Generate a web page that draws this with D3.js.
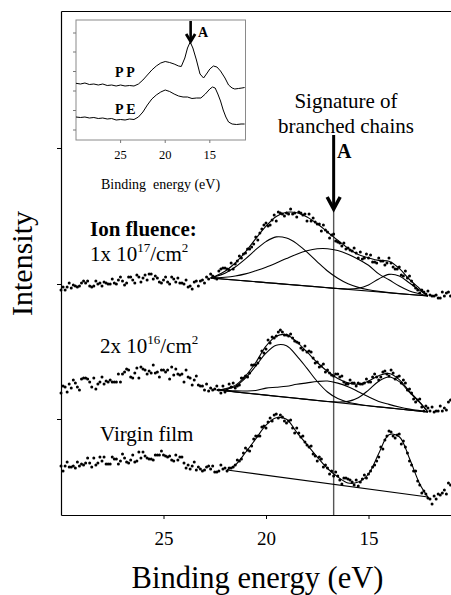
<!DOCTYPE html>
<html>
<head>
<meta charset="utf-8">
<script src="https://cdn.jsdelivr.net/npm/d3@7"></script>
<style>
  body { margin: 0; background: #fff; }
  svg { display: block; }
  text { font-family: "Liberation Serif", "Times New Roman", serif; }
</style>
</head>
<body>
<script>
// ---- data (binding energy in eV, intensity in arbitrary units) ----
// spectra were recorded on a 0.1 eV grid from 30 eV down to 11 eV
const scanEnergy = d3.range(0, 191).map(j => +(30 - 0.1 * j).toFixed(1))

const fluence17Counts = [
  225, 228, 225, 228, 232, 227, 230, 229, 228, 229,
  232, 234, 232, 234, 229, 228, 229, 234, 231, 232,
  229, 233, 232, 231, 231, 236, 232, 231, 235, 238,
  234, 230, 232, 238, 238, 235, 232, 240, 238, 233,
  237, 240, 235, 241, 241, 236, 239, 237, 233, 232,
  235, 238, 233, 231, 238, 236, 233, 237, 232, 232,
  231, 235, 228, 229, 226, 233, 234, 229, 234, 235,
  232, 238, 236, 241, 239, 237, 236, 244, 246, 247,
  247, 246, 245, 252, 246, 251, 254, 259, 257, 261,
  262, 266, 266, 268, 271, 278, 275, 282, 286, 290,
  292, 289, 290, 295, 300, 294, 303, 302, 301, 299,
  302, 301, 306, 301, 302, 298, 303, 302, 300, 301,
  294, 301, 294, 297, 293, 291, 291, 284, 290, 285,
  283, 277, 280, 281, 274, 273, 272, 269, 272, 266,
  267, 265, 264, 267, 262, 257, 263, 256, 257, 261,
  257, 260, 253, 253, 252, 257, 254, 254, 250, 252,
  257, 252, 248, 246, 246, 248, 240, 239, 244, 237,
  239, 234, 230, 227, 225, 222, 225, 223, 221, 224,
  220, 219, 219, 220, 217, 217, 223, 219, 222, 223, 219]

const fluence16Counts = [
  122, 129, 128, 123, 131, 127, 135, 132, 128, 125,
  136, 137, 137, 136, 133, 128, 137, 126, 131, 133,
  138, 131, 134, 133, 135, 133, 133, 133, 141, 133,
  141, 143, 146, 145, 138, 137, 142, 147, 137, 148,
  146, 145, 141, 144, 142, 150, 142, 143, 138, 145,
  145, 143, 145, 136, 148, 140, 146, 141, 140, 141,
  133, 145, 138, 137, 130, 135, 139, 130, 129, 129,
  125, 131, 124, 127, 125, 126, 129, 125, 122, 129,
  123, 125, 131, 128, 132, 127, 129, 130, 137, 137,
  139, 138, 142, 150, 150, 150, 152, 157, 164, 162,
  166, 175, 172, 178, 177, 179, 183, 185, 183, 180,
  180, 179, 181, 177, 174, 173, 172, 167, 165, 169,
  163, 164, 163, 157, 152, 153, 148, 149, 151, 143,
  145, 142, 140, 139, 141, 141, 138, 139, 133, 131,
  131, 135, 132, 132, 129, 132, 131, 131, 132, 136,
  133, 133, 138, 141, 138, 135, 138, 143, 144, 141,
  139, 145, 142, 136, 138, 139, 132, 135, 132, 125,
  126, 122, 116, 113, 115, 116, 108, 104, 109, 107,
  104, 108, 103, 104, 104, 109, 104, 107, 105, 113, 115]

const virginCounts = [
  49, 44, 49, 53, 48, 48, 49, 47, 53, 49,
  51, 50, 52, 57, 52, 48, 57, 50, 52, 58,
  54, 58, 51, 51, 51, 58, 56, 56, 51, 54,
  61, 57, 53, 52, 55, 60, 53, 54, 63, 57,
  63, 59, 57, 56, 56, 55, 60, 60, 60, 64,
  60, 59, 58, 59, 55, 54, 60, 55, 58, 58,
  52, 47, 50, 46, 49, 53, 45, 48, 46, 44,
  45, 48, 49, 46, 49, 43, 43, 44, 50, 46,
  47, 44, 47, 47, 48, 50, 55, 54, 56, 62,
  67, 65, 64, 69, 76, 79, 79, 79, 88, 89,
  87, 93, 97, 94, 100, 101, 97, 100, 98, 94,
  92, 94, 95, 87, 82, 87, 82, 78, 79, 73,
  70, 68, 69, 61, 59, 54, 58, 56, 48, 50,
  47, 41, 44, 39, 43, 39, 35, 31, 37, 37,
  36, 35, 33, 30, 35, 29, 33, 36, 40, 37,
  41, 44, 48, 50, 54, 58, 68, 66, 75, 79,
  84, 83, 79, 77, 80, 81, 71, 74, 68, 62,
  54, 50, 44, 44, 34, 30, 22, 24, 21, 17,
  16, 11, 19, 16, 21, 20, 22, 25, 21, 32, 30]

// fitted curves, 1x10^17/cm2
const fit17Energy = [22.7, 22.5, 22.0, 21.5, 21.0, 20.5, 20.0, 19.5, 19.0, 18.5, 18.0, 17.5, 17.0, 16.5, 16.0, 15.5, 15.0, 14.5, 14.0, 13.5, 13.0, 12.5, 12.1]
const fit17Envelope = [237.0, 238.7, 243.8, 252.0, 263.1, 276.3, 288.8, 298.5, 302.7, 302.3, 298.0, 291.2, 283.0, 274.7, 266.8, 260.5, 257.2, 254.6, 253.8, 246.6, 235.5, 226.3, 219.0]
const fit17Peak1 = [237.0, 238.2, 241.8, 248.0, 256.1, 265.3, 273.4, 278.1, 276.9, 271.4, 262.8, 253.2, 244.0, 236.7, 231.2, 227.6, 225.2, 223.6, 222.4, 221.4, 220.5, 219.7, 219.0]
const fit17Peak2 = [237.0, 237.2, 237.8, 239.0, 241.1, 244.3, 247.8, 252.0, 256.5, 260.8, 264.2, 266.2, 266.3, 264.5, 260.8, 255.7, 249.7, 241.1, 235.2, 228.9, 224.0, 221.2, 219.0]
const fit17Peak3 = [237.0, 236.7, 235.8, 235.0, 234.1, 233.3, 232.4, 231.6, 230.7, 229.9, 229.0, 228.2, 227.3, 226.5, 226.0, 226.8, 230.1, 236.1, 240.6, 239.1, 232.0, 224.8, 219.0]
const baseline17 = [[22.7, 237.0], [12.1, 219.0]]

// fitted curves, 2x10^16/cm2
const fit16Energy = [22.4, 22.0, 21.5, 21.0, 20.5, 20.0, 19.5, 19.0, 18.5, 18.0, 17.5, 17.0, 16.5, 16.0, 15.5, 15.0, 14.5, 14.0, 13.5, 13.0, 12.5, 12.1]
const fit16Envelope = [125.0, 126.2, 129.6, 139.0, 152.5, 168.9, 178.8, 180.3, 173.2, 163.1, 152.5, 143.5, 136.5, 132.1, 130.8, 133.9, 139.3, 141.5, 135.4, 123.7, 112.9, 103.0]
const fit16Peak1 = [125.0, 125.7, 128.6, 137.0, 149.0, 161.9, 169.8, 169.3, 159.2, 146.6, 133.5, 123.0, 116.4, 112.8, 110.8, 109.2, 108.1, 107.1, 106.0, 104.9, 103.9, 103.0]
const fit16Peak2 = [125.0, 124.7, 124.1, 124.0, 124.5, 126.9, 127.8, 128.8, 130.7, 132.1, 133.5, 134.0, 131.9, 128.3, 123.3, 118.2, 113.6, 110.6, 108.0, 105.9, 104.4, 103.0]
const fit16Peak3 = [125.0, 124.2, 123.1, 122.0, 121.0, 119.9, 118.8, 117.8, 116.7, 115.6, 114.5, 113.5, 113.0, 113.6, 117.3, 124.9, 133.8, 138.0, 133.4, 122.7, 112.4, 103.0]
const baseline16 = [[22.4, 125.0], [12.1, 103.0]]

// fitted curve, virgin film
const fitVirginEnergy = [21.9, 21.5, 21.0, 20.5, 20.0, 19.5, 19.0, 18.5, 18.0, 17.5, 17.0, 16.5, 16.0, 15.5, 15.0, 14.5, 14.0, 13.5, 13.0, 12.5, 12.1]
const fitVirginEnvelope = [45.0, 49.9, 62.5, 76.1, 89.8, 97.2, 95.8, 82.6, 70.3, 57.9, 46.5, 38.1, 32.0, 32.9, 41.0, 61.6, 80.2, 78.2, 56.5, 31.1, 18.0]
const baselineVirgin = [[21.9, 45.0], [12.1, 18.0]]

const xTicks = [25, 20, 15]
const yTicks = [96, 231, 367]
const markerEnergy = 16.7

// inset: reference spectra of PP and PE
const insetPPEnergy = [30, 29.5, 29, 28.5, 28, 27.5, 27, 26.5, 26, 25.5, 25, 24.5, 24, 23.5, 23, 22.5, 22, 21.5, 21, 20.5, 20, 19.5, 19, 18.5, 18.2, 17.8, 17.5, 17.2, 16.9, 16.5, 16.1, 15.7, 15.3, 15, 14.6, 14.2, 13.8, 13.3, 12.9, 12.5, 12.2, 11.8, 11.4, 11.1]
const insetPP = [5.67, 5.6, 5.7, 5.55, 5.6, 5.5, 5.6, 5.45, 5.5, 5.4, 5.5, 5.4, 5.45, 5.4, 5.6, 6.0, 6.5, 7.0, 7.4, 7.7, 7.85, 7.75, 7.6, 7.4, 7.35, 8.2, 9.2, 9.8, 9.2, 8.0, 6.6, 6.2, 6.7, 7.1, 7.4, 7.3, 6.9, 6.2, 5.5, 5.2, 5.1, 5.15, 5.2, 5.25]
const insetPEEnergy = [30, 29.5, 29, 28.5, 28, 27.5, 27, 26.5, 26, 25.5, 25, 24.5, 24, 23.5, 23, 22.5, 22, 21.5, 21, 20.5, 20, 19.5, 19, 18.5, 18, 17.5, 17, 16.5, 16, 15.5, 15, 14.7, 14.4, 14.1, 13.8, 13.5, 13.2, 12.9, 12.5, 12, 11.5, 11.1]
const insetPE = [2.3, 2.25, 2.3, 2.2, 2.25, 2.15, 2.2, 2.1, 2.15, 2.0, 2.05, 2.0, 2.1, 2.05, 2.3, 2.8, 3.5, 4.1, 4.5, 4.8, 5.0, 4.85, 4.6, 4.4, 4.3, 4.3, 4.15, 4.2, 4.2, 4.6, 5.1, 5.3, 5.2, 4.6, 3.9, 3.0, 2.3, 1.8, 1.6, 1.55, 1.6, 1.6]
const insetXTicks = [25, 20, 15]
const insetYTicks = [1.0, 2.95, 4.9, 6.85, 8.8, 10.7]
const insetMarkerEnergy = 17.15

// ---- layout ----
const width = 451
const height = 595

const svg = d3.select("body")
    .append("svg")
    .attr("width", width)
    .attr("height", height)

const x = d3.scaleLinear().domain([30, 11]).range([61, 450.5])
const y = d3.scaleLinear().domain([0, 504]).range([515, 11])

function styleAxis(g) {
    g.attr("font-family", null)
    g.select(".domain").attr("stroke", "#000").attr("stroke-width", 1.2)
    g.selectAll(".tick line").attr("stroke", "#000").attr("stroke-width", 1)
}

svg.append("g")
    .attr("transform", `translate(0,${y(0)})`)
    .call(d3.axisBottom(x).tickValues(xTicks).tickSizeInner(4).tickSizeOuter(0).tickPadding(13).tickFormat(d3.format("d")))
    .call(styleAxis)
    .selectAll("text").attr("font-size", 19).attr("fill", "#000")

svg.append("g")
    .attr("transform", `translate(${x(30)},0)`)
    .call(d3.axisLeft(y).tickValues(yTicks).tickSizeInner(4).tickSizeOuter(0).tickFormat(""))
    .call(styleAxis)

svg.append("g")
    .attr("transform", `translate(0,${y(504)})`)
    .call(d3.axisTop(x).tickValues([]).tickSizeOuter(0))
    .call(styleAxis)

// marker line for signature A
const mx = x(markerEnergy)
svg.append("line")
    .attr("x1", mx).attr("x2", mx)
    .attr("y1", 206).attr("y2", y(0))
    .attr("stroke", "#555").attr("stroke-width", 1.4)

// fitted components and baselines
const fitLine = d3.line()
    .x(d => x(d[0]))
    .y(d => y(d[1]))
    .curve(d3.curveCatmullRom.alpha(0.5))
const straight = d3.line().x(d => x(d[0])).y(d => y(d[1]))

const fitSeries = [
    [fit17Energy, fit17Envelope], [fit17Energy, fit17Peak1], [fit17Energy, fit17Peak2], [fit17Energy, fit17Peak3],
    [fit16Energy, fit16Envelope], [fit16Energy, fit16Peak1], [fit16Energy, fit16Peak2], [fit16Energy, fit16Peak3],
    [fitVirginEnergy, fitVirginEnvelope]
]

svg.append("g")
    .selectAll("path")
    .data(fitSeries)
    .join("path")
    .attr("d", d => fitLine(d3.zip(d[0], d[1])))
    .attr("fill", "none")
    .attr("stroke", "#000")
    .attr("stroke-width", 1.1)

svg.append("g")
    .selectAll("path")
    .data([baseline17, baseline16, baselineVirgin])
    .join("path")
    .attr("d", straight)
    .attr("fill", "none")
    .attr("stroke", "#000")
    .attr("stroke-width", 1.2)

// measured points
const spectra = [fluence17Counts, fluence16Counts, virginCounts]
spectra.forEach(counts => {
    svg.append("g")
        .selectAll("circle")
        .data(d3.zip(scanEnergy, counts))
        .join("circle")
        .attr("cx", d => x(d[0]))
        .attr("cy", d => y(d[1]))
        .attr("r", 1.5)
        .attr("fill", "#000")
})

// arrow A
svg.append("line")
    .attr("x1", mx).attr("x2", mx).attr("y1", 135).attr("y2", 207)
    .attr("stroke", "#000").attr("stroke-width", 3)
svg.append("path")
    .attr("d", `M${mx - 6.5},197 L${mx},209 L${mx + 6.5},197`)
    .attr("fill", "none").attr("stroke", "#000").attr("stroke-width", 3.5)

// labels
const label = (tx, ty, txt, size, weight, anchor) => svg.append("text")
    .attr("x", tx).attr("y", ty)
    .attr("font-size", size)
    .attr("font-weight", weight || "normal")
    .attr("text-anchor", anchor || "start")
    .attr("fill", "#000")
    .text(txt)

label(346, 108, "Signature of", 21, null, "middle")
label(346, 133, "branched chains", 21, null, "middle")
label(337, 158, "A", 20, "bold")
label(90, 236, "Ion fluence:", 21, "bold")

function fluenceLabel(tx, ty, lead, exp) {
    const t = svg.append("text").attr("x", tx).attr("y", ty).attr("font-size", 21).attr("fill", "#000")
    t.append("tspan").text(lead)
    t.append("tspan").attr("font-size", 13).attr("dy", -9).text(exp)
    t.append("tspan").attr("dy", 9).text("/cm")
    t.append("tspan").attr("font-size", 13).attr("dy", -9).text("2")
}
fluenceLabel(90, 261, "1x 10", "17")
fluenceLabel(100, 353, "2x 10", "16")
label(100, 441, "Virgin film", 21)

label(257.5, 588, "Binding energy (eV)", 30.5, null, "middle")
svg.append("text")
    .attr("transform", "translate(32,263.5) rotate(-90)")
    .attr("text-anchor", "middle")
    .attr("font-size", 30)
    .attr("fill", "#000")
    .text("Intensity")

// ---- inset ----
const xi = d3.scaleLinear().domain([30, 11]).range([76, 245.5])
const yi = d3.scaleLinear().domain([0, 12]).range([140, 20])

const inset = svg.append("g")
inset.append("rect")
    .attr("x", xi(30)).attr("y", yi(12))
    .attr("width", xi(11) - xi(30)).attr("height", yi(0) - yi(12))
    .attr("fill", "#fff").attr("stroke", "#8a8a8a").attr("stroke-width", 1)

inset.selectAll(".yt")
    .data(insetYTicks)
    .join("line")
    .attr("x1", xi(30) - 3).attr("x2", xi(30))
    .attr("y1", d => yi(d)).attr("y2", d => yi(d))
    .attr("stroke", "#777")
inset.selectAll(".xt")
    .data(insetXTicks)
    .join("line")
    .attr("x1", d => xi(d)).attr("x2", d => xi(d))
    .attr("y1", yi(0)).attr("y2", yi(0) + 3)
    .attr("stroke", "#777")
inset.selectAll(".xl")
    .data(insetXTicks)
    .join("text")
    .attr("x", d => xi(d)).attr("y", 158.5)
    .attr("text-anchor", "middle").attr("font-size", 12.5).attr("fill", "#000")
    .text(d => d)

const insetLine = d3.line().x(d => xi(d[0])).y(d => yi(d[1]))
inset.selectAll("path.spec")
    .data([d3.zip(insetPPEnergy, insetPP), d3.zip(insetPEEnergy, insetPE)])
    .join("path")
    .attr("class", "spec")
    .attr("d", insetLine)
    .attr("fill", "none").attr("stroke", "#000").attr("stroke-width", 1)

const imx = xi(insetMarkerEnergy)
inset.append("line")
    .attr("x1", imx).attr("x2", imx).attr("y1", 21).attr("y2", 40)
    .attr("stroke", "#000").attr("stroke-width", 2.6)
inset.append("path")
    .attr("d", `M${imx - 4.5},34 L${imx},41.5 L${imx + 4.5},34`)
    .attr("fill", "none").attr("stroke", "#000").attr("stroke-width", 2.8)

label(198, 37, "A", 14, "bold")
label(115, 77, "P P", 14, "bold")
label(115, 114, "P E", 14, "bold")
label(160.5, 189, "Binding  energy (eV)", 14, null, "middle").style("white-space", "pre")
</script>
</body>
</html>
